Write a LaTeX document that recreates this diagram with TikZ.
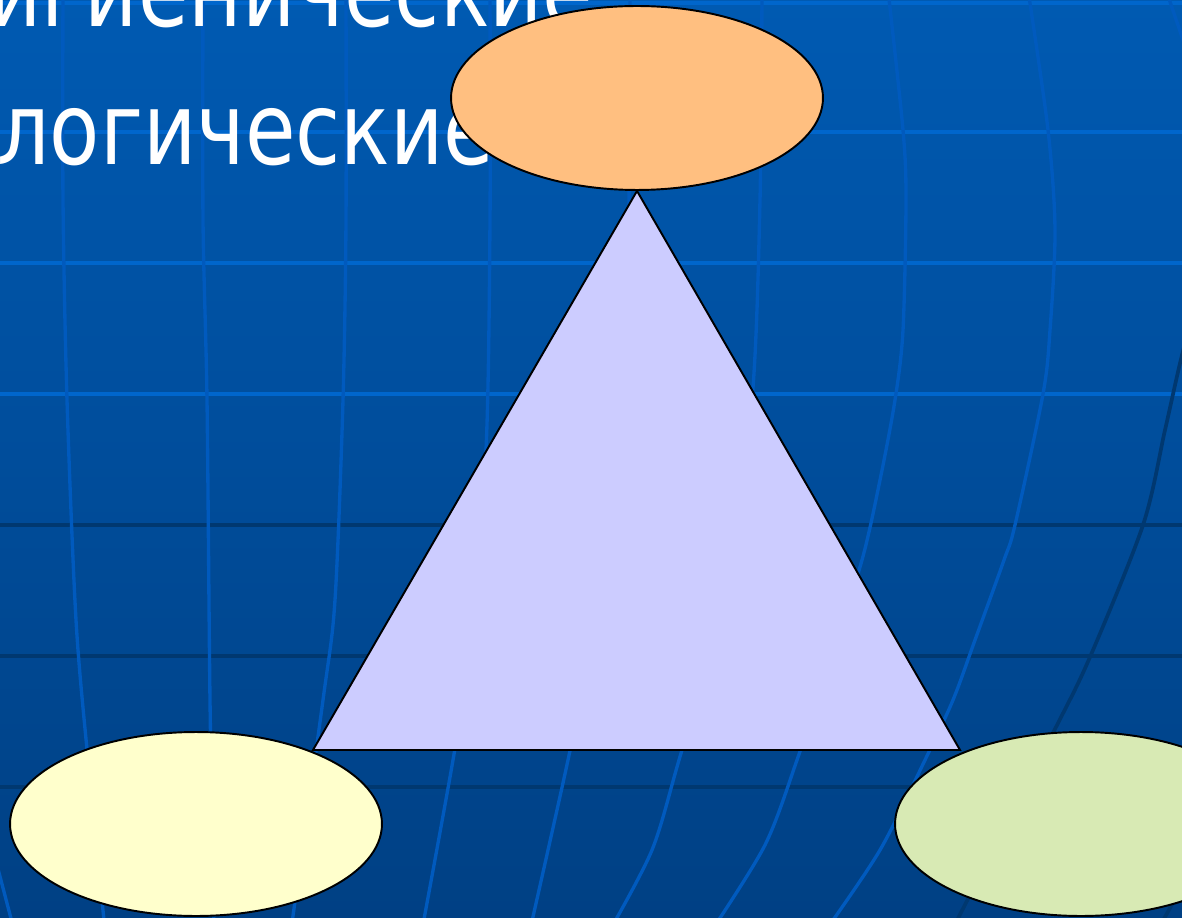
\documentclass[tikz,border=0pt]{standalone}
\usepackage{fontspec}
\newfontfamily\slidefont{DejaVu Sans}[FakeStretch=0.82]
\usetikzlibrary{shapes.geometric}
\definecolor{bgtop}{RGB}{0,90,178}
\definecolor{bgbot}{RGB}{0,64,132}
\definecolor{gridhi}{RGB}{0,102,204}
\definecolor{gridmid}{RGB}{0,90,190}
\definecolor{gridlo}{RGB}{0,56,112}
\definecolor{peach}{RGB}{255,191,128}
\definecolor{lavender}{RGB}{204,204,255}
\definecolor{cream}{RGB}{255,255,204}
\definecolor{sage}{RGB}{216,234,180}
\tikzset{
  hiline/.style={line width=1.9pt, gridhi},
  midline/.style={line width=1.9pt, gridmid},
  loline/.style={line width=2.1pt, gridlo},
  bubble/.style={ellipse, draw=black, line width=1.1pt, minimum width=7.44cm, minimum height=3.68cm, inner sep=0pt},
  slidetext/.style={font=\slidefont\fontsize{57}{57}\selectfont, text=white, anchor=base west, inner sep=0pt},
}

\begin{document}
\begin{tikzpicture}[x=0.02cm, y=-0.02cm]
  \useasboundingbox (0,0) rectangle (1182,918);
  \clip (0,0) rectangle (1182,918);
  \shade[top color=bgtop, bottom color=bgbot] (0,0) rectangle (1182,918);
  \foreach \y in {3,132,263,394}
    \draw[hiline] (0,\y) -- (1182,\y);
  \foreach \y in {525,656,787}
    \draw[loline] (0,\y) -- (1182,\y);
  \draw[midline] plot[smooth] coordinates {(63,-10) (63,200) (67,400) (76,620) (88,760) (105,930)};
  \draw[midline] plot[smooth] coordinates {(-20,800) (14,930)};
  \draw[midline] plot[smooth] coordinates {(203,-10) (203,220) (207,400) (210,700) (214,930)};
  \draw[midline] plot[smooth] coordinates {(346,-10) (346,220) (343,400) (335,600) (323,700) (291,930)};
  \draw[midline] plot[smooth] coordinates {(490,-10) (490,220) (486,450) (470,650) (453,760) (422,930)};
  \draw[midline] plot[smooth] coordinates {(630,-10) (628,250) (615,450) (590,650) (568,760) (530,930)};
  \draw[midline] plot[smooth] coordinates {(762,-10) (760,200) (752,400) (725,600) (679,760) (652,850) (610,930)};
  \draw[midline] plot[smooth] coordinates {(888,-10) (903,130) (906,200) (903,330) (895,400) (880,480) (862,560) (830,660) (797,760) (765,845) (712,930)};
  \draw[midline] plot[smooth] coordinates {(1028,-10) (1048,130) (1055,230) (1050,330) (1043,394) (1015,525) (1004,560) (975,640) (953,700) (925,760) (880,850) (826,930)};
  \draw[midline] plot[smooth] coordinates {(1166,-10) (1200,90)};
  \draw[loline] plot[smooth] coordinates {(1200,290) (1182,355) (1165,430) (1143,525) (1090,657) (1053,733) (952,930)};
  \draw[loline] plot[smooth] coordinates {(1155,935) (1230,800)};
  \node[slidetext] (hyg) at (-12,27) {игиенические};
  \node[slidetext] (psy) at (-3,165) {логические};
  \coordinate (baseL) at (313,750);
  \coordinate (baseR) at (960,750);
  \node[bubble, fill=peach] (top) at (637,98) {};
  \draw[fill=lavender, line width=1.1pt] (top.south) -- (baseR) -- (baseL) -- cycle;
  \node[bubble, fill=cream] (left) at (196,824) {};
  \node[bubble, fill=sage] (right) at (1081,824) {};
\end{tikzpicture}
\end{document}
